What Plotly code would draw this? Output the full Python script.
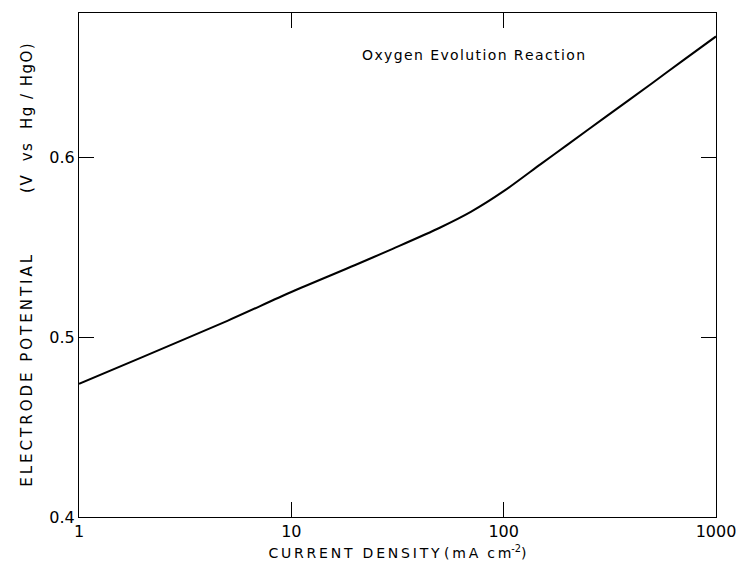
import plotly.graph_objects as go

current_density = [1, 2, 5, 10, 20, 30, 50, 70, 100, 150, 200, 300, 500, 700, 1000]
potential = [0.474, 0.489, 0.509, 0.525, 0.540, 0.549, 0.5607, 0.5695, 0.581,
             0.5962, 0.6069, 0.622, 0.641, 0.6537, 0.667]

x_ticks = [1, 10, 100, 1000]
x_tick_labels = ["1", "10", "100", "1000"]
y_ticks = [0.4, 0.5, 0.6]
y_tick_labels = ["0.4", "0.5", "0.6"]

annotation_text = "Oxygen Evolution Reaction"
x_title = "CURRENT DENSITY"
y_title_main = "ELECTRODE POTENTIAL"
y_title_unit = "(V  vs  Hg / HgO)"

font_family = "DejaVu Sans"
HAIR = "\u200a"
THIN = "\u2009"


def spaced(s, sep):
    return sep.join(ch if ch != " " else "&nbsp;" for ch in s)


fig = go.Figure()
fig.add_trace(go.Scatter(
    x=current_density, y=potential, mode="lines",
    line=dict(color="black", width=2, shape="spline", smoothing=0.8),
    showlegend=False, hoverinfo="skip",
))

fig.add_annotation(
    x=1.322, y=0.6565, xref="x", yref="y",
    text=spaced(annotation_text, HAIR), showarrow=False,
    font=dict(family=font_family, size=14, color="black"),
    xanchor="left", yanchor="middle",
)

x_title_text = (spaced(x_title, THIN) + "&nbsp;" + spaced("(mA", THIN) + "&nbsp;&nbsp;"
                + spaced("cm", THIN) + "<sup>-2</sup>)")
y_title_text = spaced(y_title_main, THIN) + "&nbsp;" * 13 + spaced(y_title_unit, HAIR)

fig.update_layout(
    width=732, height=558,
    margin=dict(l=71, r=21, t=4, b=49),
    paper_bgcolor="white", plot_bgcolor="white",
    font=dict(family=font_family, color="black"),
    xaxis=dict(
        type="log", range=[0, 3],
        tickvals=x_ticks, ticktext=x_tick_labels,
        ticks="inside", ticklen=15, tickwidth=1.2, tickcolor="black",
        showline=True, linecolor="black", linewidth=1.2, mirror="ticks",
        showgrid=False, zeroline=False,
        tickfont=dict(size=16, color="black"),
        title=dict(text=x_title_text, font=dict(size=14, color="black"), standoff=7),
    ),
    yaxis=dict(
        range=[0.4, 0.68],
        tickvals=y_ticks, ticktext=y_tick_labels,
        ticks="inside", ticklen=15, tickwidth=1.2, tickcolor="black",
        showline=True, linecolor="black", linewidth=1.2, mirror="ticks",
        showgrid=False, zeroline=False,
        tickfont=dict(size=16, color="black"),
        title=dict(text=y_title_text, font=dict(size=15, color="black"), standoff=12),
    ),
)

fig.write_html("out.html")
